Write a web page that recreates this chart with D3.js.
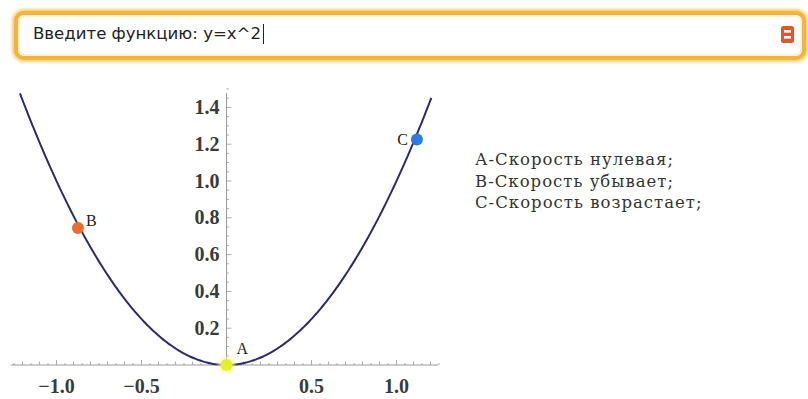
<!DOCTYPE html>
<html><head><meta charset="utf-8">
<script src="https://cdn.jsdelivr.net/npm/d3@7"></script>
<style>html,body{margin:0;padding:0;background:#fff;}svg{display:block;}</style>
</head><body>
<svg id="c" width="808" height="399"></svg>
<script>
// ---- data ----
const inputText = "Введите функцию: y=x^2";
const curveXs = d3.range(-1.215, 1.2101, 0.01);       // sampled domain of y = x^2
const pointNames = ["A", "B", "C"];
const pointX = [0, -0.874, 1.12];
const pointY = [0, 0.745, 1.225];
const pointColors = ["#e6f02a", "#ee6a2e", "#2b7be0"];
const xTickLabels = [-1.0, -0.5, 0.5, 1.0];
const yTickLabels = [0.2, 0.4, 0.6, 0.8, 1.0, 1.2, 1.4];
const legendLines = ["А-Скорость нулевая;", "В-Скорость убывает;", "С-Скорость возрастает;"];

const svg = d3.select("#c");

// ---- input box ----
const defs = svg.append("defs");
const f = defs.append("filter").attr("id","glow").attr("x","-10%").attr("y","-50%").attr("width","120%").attr("height","200%");
f.append("feGaussianBlur").attr("stdDeviation",1.5);
svg.append("rect").attr("x",15).attr("y",12).attr("width",790).attr("height",47).attr("rx",9)
  .attr("fill","none").attr("stroke","#f7cf6e").attr("stroke-width",6).attr("filter","url(#glow)");
svg.append("rect").attr("x",16).attr("y",13).attr("width",788).attr("height",45).attr("rx",8)
  .attr("fill","#fff").attr("stroke","#f2b43a").attr("stroke-width",4);
svg.append("rect").attr("x",19).attr("y",16).attr("width",782).attr("height",39).attr("rx",6)
  .attr("fill","#fff").attr("stroke","#f9e3b0").attr("stroke-width",1);
svg.append("text").attr("x",33).attr("y",39).attr("font-family","DejaVu Sans, Verdana, sans-serif")
  .attr("font-size",16).attr("fill","#222")
  .attr("textLength",228).attr("lengthAdjust","spacingAndGlyphs").text(inputText);
svg.append("line").attr("x1",263.5).attr("x2",263.5).attr("y1",24).attr("y2",44).attr("stroke","#222").attr("stroke-width",1);
svg.append("rect").attr("x",781).attr("y",26).attr("width",13).attr("height",17).attr("rx",2.5).attr("fill","#e0582a");
svg.append("rect").attr("x",784).attr("y",30).attr("width",7).attr("height",2.6).attr("fill","#fff");
svg.append("rect").attr("x",784).attr("y",36).attr("width",7).attr("height",2.6).attr("fill","#fff");

// ---- plot ----
const x = d3.scaleLinear().domain([-1, 1]).range([56.5, 396.5]);
const y = d3.scaleLinear().domain([0, 1.4]).range([365, 107.4]);

const axisColor = "#999";
const g = svg.append("g");

// x axis line
g.append("line").attr("x1",11).attr("x2",438).attr("y1",y(0)).attr("y2",y(0)).attr("stroke",axisColor).attr("stroke-width",1);
d3.range(-1.25, 1.2501, 0.05).forEach(v => {
  const r = Math.round(v*100);
  if (Math.abs(r) < 1) return;
  const len = (r % 50 === 0) ? 5 : (r % 10 === 0 ? 3.5 : 2);
  g.append("line").attr("x1",x(v)).attr("x2",x(v)).attr("y1",y(0)).attr("y2",y(0)-len).attr("stroke",axisColor).attr("stroke-width",0.8);
});
// y axis line
g.append("line").attr("x1",x(0)).attr("x2",x(0)).attr("y1",93).attr("y2",y(0)).attr("stroke",axisColor).attr("stroke-width",1);
d3.range(0.05, 1.5001, 0.05).forEach(v => {
  const r = Math.round(v*100);
  const len = (r % 20 === 0) ? 5 : 2.5;
  g.append("line").attr("x1",x(0)).attr("x2",x(0)+len).attr("y1",y(v)).attr("y2",y(v)).attr("stroke",axisColor).attr("stroke-width",0.8);
});

const serif = "Liberation Serif, Times New Roman, serif";
g.selectAll(".xl").data(xTickLabels).enter().append("text")
  .attr("x",d=>x(d)).attr("y",393).attr("text-anchor","middle")
  .attr("font-family",serif).attr("font-size",20).attr("font-weight","bold").attr("fill","#3a3a3a")
  .text(d=> (d<0?"\u2212":"") + Math.abs(d).toFixed(1));
g.selectAll(".yl").data(yTickLabels).enter().append("text")
  .attr("x",x(0)-7).attr("y",d=>y(d)+6.5).attr("text-anchor","end")
  .attr("font-family",serif).attr("font-size",20).attr("font-weight","bold").attr("fill","#3a3a3a")
  .text(d=>d.toFixed(1));

// curve
const line = d3.line().x(d=>x(d)).y(d=>y(d*d)).curve(d3.curveBasis);
g.append("path").datum(curveXs).attr("d",line).attr("fill","none").attr("stroke","#2c2c66").attr("stroke-width",2);

// points
const pts = pointNames.map((n,i)=>({n, x:pointX[i], y:pointY[i], c:pointColors[i]}));
g.selectAll(".pg").data(pts.filter(p=>p.n==="A")).enter().append("circle")
  .attr("cx",d=>x(d.x)).attr("cy",d=>y(d.y)).attr("r",9).attr("fill","#f4f8a0").attr("opacity",0.6).attr("filter","url(#glow)");
g.selectAll(".pt").data(pts).enter().append("circle")
  .attr("cx",d=>x(d.x)).attr("cy",d=>y(d.y)).attr("r",6).attr("fill",d=>d.c);
const labelOff = {A:[10,-11,"start"], B:[8,-2,"start"], C:[-9,5,"end"]};
g.selectAll(".pl").data(pts).enter().append("text")
  .attr("x",d=>x(d.x)+labelOff[d.n][0]).attr("y",d=>y(d.y)+labelOff[d.n][1])
  .attr("text-anchor",d=>labelOff[d.n][2])
  .attr("font-family",serif).attr("font-size",16).attr("fill","#222").text(d=>d.n);

// legend
svg.selectAll(".lg").data(legendLines).enter().append("text")
  .attr("x",475).attr("y",(d,i)=>165 + i*21.5)
  .attr("font-family","DejaVu Serif, serif").attr("font-size",16.5).attr("letter-spacing",1.0).attr("fill","#333")
  .text(d=>d);
</script>
</body></html>
